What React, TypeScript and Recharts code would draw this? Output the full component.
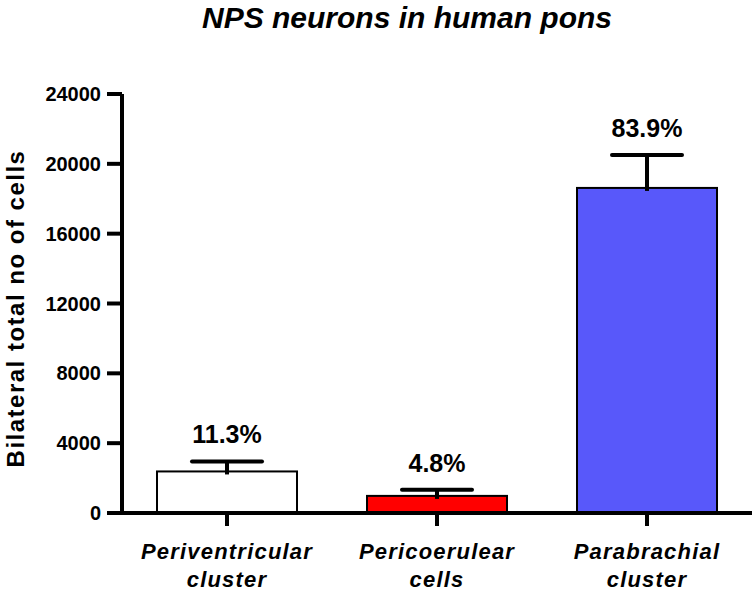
import { BarChart, Bar, XAxis, YAxis, Cell } from 'recharts';

// values
const regions = ['Periventricular cluster', 'Pericoerulear cells', 'Parabrachial cluster'];
const cellCounts = [2380, 980, 18620];
const sem = [570, 350, 1880];
const shares = ['11.3%', '4.8%', '83.9%'];
const barColors = ['#ffffff', '#ff0000', '#5858fa'];
const yTicks = [0, 4000, 8000, 12000, 16000, 20000, 24000];

const FONT = '"Liberation Sans", Arial, sans-serif';

const data = regions.map((name, i) => ({
  name,
  cells: cellCounts[i],
  sem: sem[i],
  share: shares[i],
}));

function BarWithError(props: any) {
  const { x, y, width, height, fill, payload } = props;
  const perUnit = height / payload.cells;
  const errY = y - payload.sem * perUnit;
  const cx = x + width / 2;
  const capHalf = width / 4;
  return (
    <g>
      <rect x={x} y={y} width={width} height={height} fill={fill} stroke="#000" strokeWidth={2} />
      <line x1={cx} x2={cx} y1={y + 3} y2={errY} stroke="#000" strokeWidth={4} />
      <line x1={cx - capHalf} x2={cx + capHalf} y1={errY} y2={errY} stroke="#000" strokeWidth={4} strokeLinecap="round" />
      <text
        x={cx}
        y={errY - 18}
        textAnchor="middle"
        fontFamily={FONT}
        fontWeight="bold"
        fontSize={25}
        fill="#000"
      >
        {payload.share}
      </text>
    </g>
  );
}

function RegionTick(props: any) {
  const { x, y, payload } = props;
  const words = String(payload.value).split(' ');
  return (
    <g>
      {words.map((w: string, i: number) => (
        <text
          key={w}
          x={x}
          y={y + 31 + i * 28}
          textAnchor="middle"
          fontFamily={FONT}
          fontWeight="bold"
          fontStyle="italic"
          fontSize={22}
          letterSpacing={1.2}
          fill="#000"
        >
          {w}
        </text>
      ))}
    </g>
  );
}

function YTitle(props: any) {
  const { viewBox } = props;
  const cx = 24;
  const cy = viewBox.y + viewBox.height / 2 + 5;
  return (
    <text
      x={cx}
      y={cy}
      transform={`rotate(-90, ${cx}, ${cy})`}
      textAnchor="middle"
      fontFamily={FONT}
      fontWeight="bold"
      fontSize={24}
      letterSpacing={1.5}
      fill="#000"
    >
      Bilateral total no of cells
    </text>
  );
}

export default function App() {
  return (
    <div style={{ position: 'absolute', left: 0, top: 0, width: 756, height: 591, background: '#fff' }}>
      <svg width={756} height={60} style={{ position: 'absolute', left: 0, top: 0 }}>
        <text
          x={407}
          y={28}
          textAnchor="middle"
          fontFamily={FONT}
          fontWeight="bold"
          fontStyle="italic"
          fontSize={30}
          fill="#000"
        >
          NPS neurons in human pons
        </text>
      </svg>
      <BarChart
        width={756}
        height={591}
        data={data}
        margin={{ top: 94, right: 4, bottom: 0, left: 0 }}
        barCategoryGap="16.67%"
      >
        <XAxis
          dataKey="name"
          height={78}
          axisLine={{ stroke: '#000', strokeWidth: 4 }}
          tickLine={{ stroke: '#000', strokeWidth: 4 }}
          tickSize={13}
          tick={<RegionTick />}
          interval={0}
        />
        <YAxis
          width={122}
          domain={[0, 24000]}
          ticks={yTicks}
          interval={0}
          axisLine={{ stroke: '#000', strokeWidth: 4 }}
          tickLine={{ stroke: '#000', strokeWidth: 4 }}
          tickSize={15}
          tickMargin={6}
          tick={{ fill: '#000', fontFamily: FONT, fontWeight: 'bold', fontSize: 20 }}
          label={<YTitle />}
        />
        <Bar dataKey="cells" shape={<BarWithError />} isAnimationActive={false}>
          {data.map((d, i) => (
            <Cell key={d.name} fill={barColors[i]} />
          ))}
        </Bar>
      </BarChart>
    </div>
  );
}
